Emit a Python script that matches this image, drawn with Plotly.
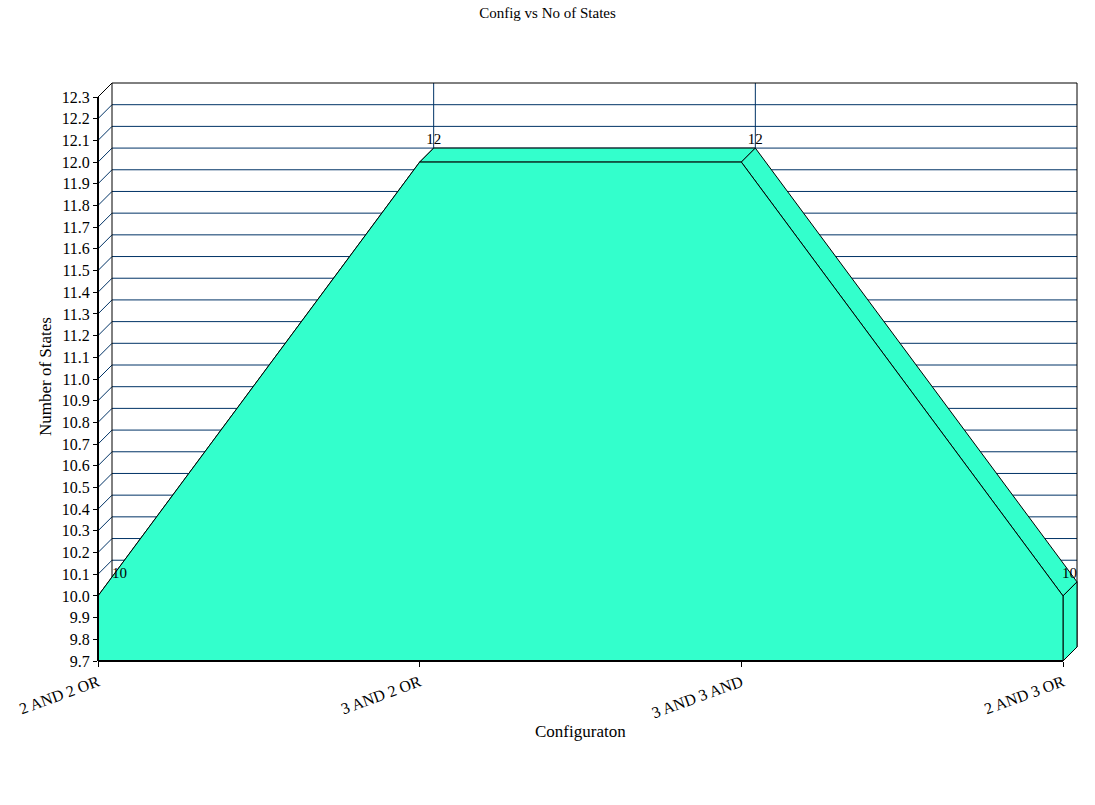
import plotly.graph_objects as go

# ---------------- data ----------------
categories = ["2 AND 2 OR", "3 AND 2 OR", "3 AND 3 AND", "2 AND 3 OR"]
states = [10, 12, 12, 10]
y_ticks = [9.7, 9.8, 9.9, 10.0, 10.1, 10.2, 10.3, 10.4, 10.5, 10.6, 10.7, 10.8, 10.9,
           11.0, 11.1, 11.2, 11.3, 11.4, 11.5, 11.6, 11.7, 11.8, 11.9, 12.0, 12.1, 12.2, 12.3]
y_tick_labels = ["9.7", "9.8", "9.9", "10.0", "10.1", "10.2", "10.3", "10.4", "10.5", "10.6",
                 "10.7", "10.8", "10.9", "11.0", "11.1", "11.2", "11.3", "11.4", "11.5", "11.6",
                 "11.7", "11.8", "11.9", "12.0", "12.1", "12.2", "12.3"]
chart_title = "Config vs No of States"
x_title = "Configuraton"
y_title = "Number of States"

# ---------------- styling / geometry ----------------
FONT = "Liberation Serif, Times New Roman, serif"
FILL = "#33FFCC"
GRID = "#003366"
EDGE = "black"

W, H = 1095, 805
L, R, T, B = 98, 17, 82, 144
plot_w = W - L - R
plot_h = H - T - B

Y_MIN, Y_MAX = y_ticks[0], y_ticks[-1]
x_idx = list(range(len(categories)))
X_MAX = x_idx[-1]

FRONT_W = 965.0          # px width of front plane
FRONT_H = 564.0          # px height of front plane
PX_X = FRONT_W / X_MAX
PX_Y = FRONT_H / (Y_MAX - Y_MIN)
DEPTH = 14.0
dxu = DEPTH / PX_X
dyu = DEPTH / PX_Y

x_range = [0, plot_w / PX_X]
y_range = [Y_MIN, Y_MIN + plot_h / PX_Y]


def xd(v):
    return (v - x_range[0]) / (x_range[1] - x_range[0])


def yd(v):
    return (v - y_range[0]) / (y_range[1] - y_range[0])


fig = go.Figure()

# back wall grid lines (with side diagonals)
gx, gy = [], []
for v in y_ticks[:-1]:
    gx += [0, dxu, X_MAX + dxu, None]
    gy += [v, v + dyu, v + dyu, None]
for i in x_idx[1:-1]:
    gx += [i + dxu, i + dxu, None]
    gy += [Y_MAX + dyu, Y_MIN + dyu, None]
fig.add_trace(go.Scatter(x=gx, y=gy, mode="lines", line=dict(color=GRID, width=1),
                         hoverinfo="skip", showlegend=False))

# back wall border
bx = [0, dxu, X_MAX + dxu, X_MAX + dxu, None, dxu, dxu]
by = [Y_MAX, Y_MAX + dyu, Y_MAX + dyu, Y_MIN + dyu, None, Y_MAX + dyu, Y_MIN + dyu]
fig.add_trace(go.Scatter(x=bx, y=by, mode="lines", line=dict(color=EDGE, width=1),
                         hoverinfo="skip", showlegend=False))

# top faces of the 3D area
for i in range(len(x_idx) - 1):
    x0, x1 = x_idx[i], x_idx[i + 1]
    y0, y1 = states[i], states[i + 1]
    fig.add_trace(go.Scatter(
        x=[x0, x1, x1 + dxu, x0 + dxu, x0],
        y=[y0, y1, y1 + dyu, y0 + dyu, y0],
        mode="lines", fill="toself", fillcolor=FILL,
        line=dict(color=EDGE, width=1), hoverinfo="skip", showlegend=False))

# right end face
xe, ye = x_idx[-1], states[-1]
fig.add_trace(go.Scatter(
    x=[xe, xe + dxu, xe + dxu, xe, xe],
    y=[ye, ye + dyu, Y_MIN + dyu, Y_MIN, ye],
    mode="lines", fill="toself", fillcolor=FILL,
    line=dict(color=EDGE, width=1), hoverinfo="skip", showlegend=False))

# front face
fig.add_trace(go.Scatter(
    x=x_idx + [x_idx[-1], x_idx[0], x_idx[0]],
    y=states + [Y_MIN, Y_MIN, states[0]],
    mode="lines", fill="toself", fillcolor=FILL,
    line=dict(color=EDGE, width=1), hoverinfo="skip", showlegend=False))

# value labels
positions = ["top right"] + ["top center"] * (len(states) - 2) + ["top left"]
fig.add_trace(go.Scatter(
    x=[i + dxu for i in x_idx], y=[v + dyu for v in states],
    mode="text", text=[str(v) for v in states], textposition=positions,
    textfont=dict(family=FONT, size=15, color="black"),
    cliponaxis=False, hoverinfo="skip", showlegend=False))

# axis lines (front plane only)
shapes = [
    dict(type="line", xref="x domain", yref="y domain", x0=0, x1=0, y0=yd(Y_MIN), y1=yd(Y_MAX),
         line=dict(color="black", width=2), layer="above"),
    dict(type="line", xref="x domain", yref="y domain", x0=xd(0), x1=xd(X_MAX), y0=0, y1=0,
         line=dict(color="black", width=2), layer="above"),
]

fig.update_layout(
    width=W, height=H,
    margin=dict(l=L, r=R, t=T, b=B, pad=0),
    paper_bgcolor="white", plot_bgcolor="white",
    font=dict(family=FONT, size=16, color="black"),
    title=dict(text=chart_title, x=0.5, xref="container", xanchor="center",
               y=1 - 13 / H, yref="container", yanchor="middle",
               font=dict(family=FONT, size=15, color="black")),
    shapes=shapes,
    annotations=[
        dict(text=x_title, xref="x", yref="paper", x=X_MAX / 2, y=-(731 - (T + plot_h)) / plot_h,
             showarrow=False, xanchor="center", yanchor="middle",
             font=dict(family=FONT, size=17, color="black")),
        dict(text=y_title, xref="paper", yref="paper", x=(45 - L) / plot_w,
             y=((T + plot_h) - 377) / plot_h, textangle=-90,
             showarrow=False, xanchor="center", yanchor="middle",
             font=dict(family=FONT, size=17, color="black")),
    ],
    xaxis=dict(range=x_range, tickmode="array", tickvals=x_idx, ticktext=categories,
               tickangle=-20, ticks="outside", ticklen=5, tickcolor="black", tickwidth=1,
               showgrid=False, zeroline=False, showline=False,
               tickfont=dict(family=FONT, size=16, color="black")),
    yaxis=dict(range=y_range, tickmode="array", tickvals=y_ticks, ticktext=y_tick_labels,
               ticks="outside", ticklen=4, tickcolor="black", tickwidth=1,
               showgrid=False, zeroline=False, showline=False,
               tickfont=dict(family=FONT, size=16, color="black")),
)

fig.write_html("out.html")
